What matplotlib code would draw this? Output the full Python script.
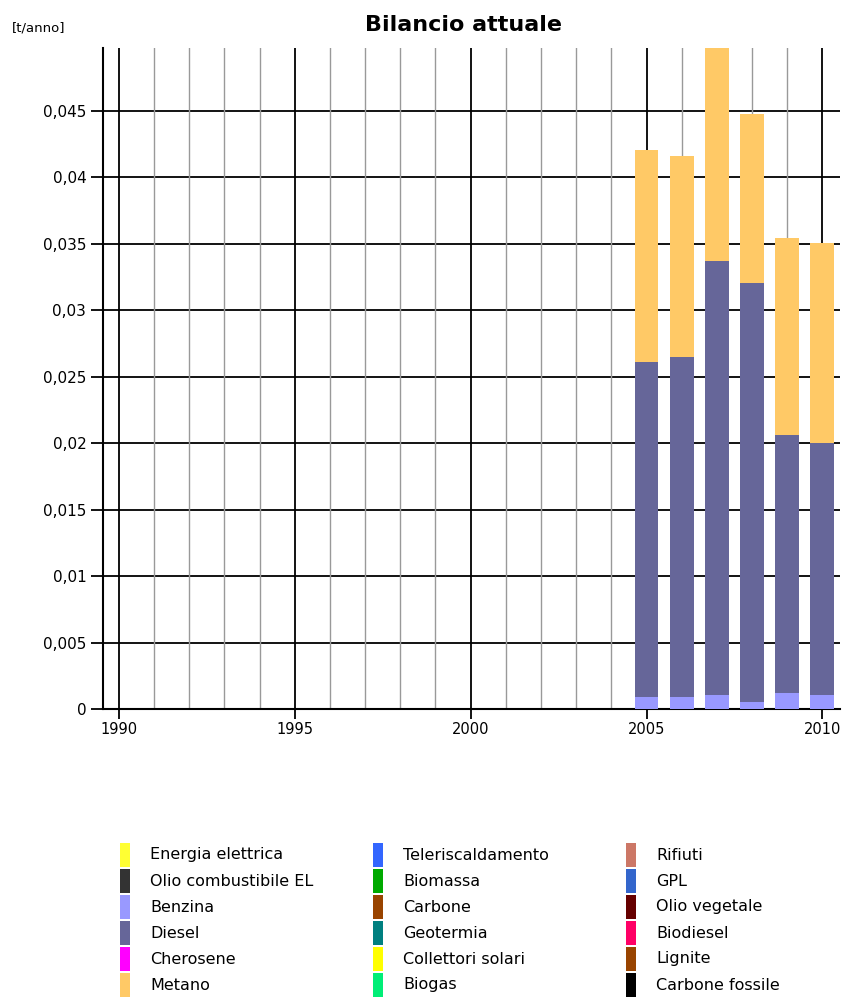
#!/usr/bin/env python3
import matplotlib
matplotlib.use("Agg")
import matplotlib.pyplot as plt
from matplotlib.patches import Rectangle
from matplotlib.ticker import FuncFormatter, MultipleLocator

years = [2005, 2006, 2007, 2008, 2009, 2010]
benzina = [0.0009, 0.0009, 0.00105, 0.00055, 0.00118, 0.00103]
diesel = [0.0252, 0.02555, 0.03261, 0.03145, 0.0194, 0.01895]
metano = [0.0159, 0.01515, 0.0163, 0.01275, 0.01486, 0.01505]

legend_labels = [
    "Energia elettrica", "Olio combustibile EL", "Benzina", "Diesel", "Cherosene", "Metano",
    "Teleriscaldamento", "Biomassa", "Carbone", "Geotermia", "Collettori solari", "Biogas",
    "Rifiuti", "GPL", "Olio vegetale", "Biodiesel", "Lignite", "Carbone fossile",
]
legend_colors = [
    "#ffff33", "#333333", "#9999ff", "#666699", "#ff00ff", "#ffc966",
    "#3366ff", "#00aa00", "#994400", "#008080", "#ffff00", "#00ee77",
    "#cc7766", "#3366cc", "#660000", "#ff0066", "#994400", "#000000",
]

plt.rcParams["font.family"] = ["DejaVu Sans"]

fig = plt.figure(figsize=(8.47, 9.98), dpi=100)
ax = fig.add_axes([103 / 847, 1 - 709 / 998, 737 / 847, 661 / 998])

width = 0.68
bottom2 = [b + d for b, d in zip(benzina, diesel)]
ax.bar(years, benzina, width, color="#9999ff", zorder=3)
ax.bar(years, diesel, width, bottom=benzina, color="#666699", zorder=3)
ax.bar(years, metano, width, bottom=bottom2, color="#ffc966", zorder=3)

ax.set_xlim(1989.55, 2010.5)
ax.set_ylim(0, 0.0497)

# grid: grey every year, black every 5 years, black every 0.005
for yr in range(1990, 2011):
    major = yr % 5 == 0
    ax.axvline(yr, color="black" if major else "#999999", lw=1.3 if major else 1.0, zorder=1)
ax.yaxis.set_major_locator(MultipleLocator(0.005))
ax.grid(axis="y", color="black", lw=1.3, zorder=1)
ax.set_axisbelow(True)

ax.xaxis.set_major_locator(MultipleLocator(5))
ax.xaxis.set_major_formatter(FuncFormatter(lambda v, p: f"{int(v)}"))
ax.yaxis.set_major_formatter(
    FuncFormatter(lambda v, p: "0" if abs(v) < 1e-12 else f"{v:.3f}".rstrip("0").replace(".", ","))
)
ax.tick_params(axis="x", length=7, width=1.3, labelsize=10.5, pad=2)
ax.tick_params(axis="y", length=9, width=1.3, labelsize=11, pad=3)

for side in ("top", "right"):
    ax.spines[side].set_visible(False)
ax.spines["left"].set_linewidth(1.5)
ax.spines["bottom"].set_linewidth(1.5)

fig.text(463 / 847, 1 - 25 / 998, "Bilancio attuale", ha="center", va="center",
         fontsize=16, fontweight="bold")
fig.text(12 / 847, 1 - 28 / 998, "[t/anno]", ha="left", va="center", fontsize=9.5)

# legend: three columns of six
col_x = [120, 373, 626]
row_y = [855, 881, 907, 933, 959, 985]
for i, (lab, col) in enumerate(zip(legend_labels, legend_colors)):
    cx = col_x[i // 6]
    ry = row_y[i % 6]
    fig.add_artist(Rectangle((cx / 847, 1 - (ry + 12) / 998), 10 / 847, 24 / 998,
                             transform=fig.transFigure, color=col, lw=0))
    fig.text((cx + 30) / 847, 1 - ry / 998, lab, ha="left", va="center", fontsize=11.5)

fig.savefig("out.png", dpi=100)
